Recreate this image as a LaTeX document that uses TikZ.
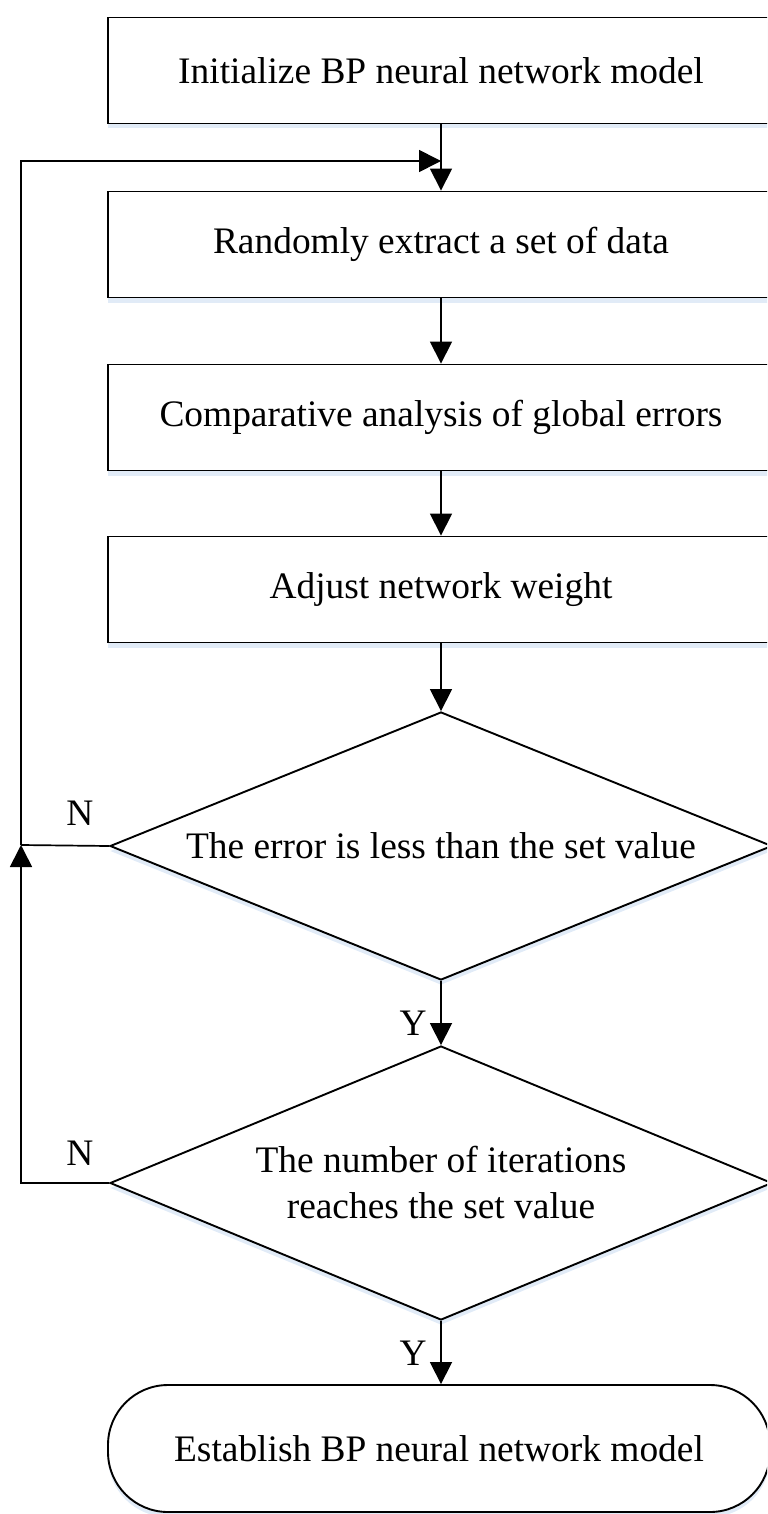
\documentclass[tikz,border=0pt]{standalone}
\usepackage{fontspec}
\setmainfont{Liberation Serif}
\usetikzlibrary{arrows.meta,shapes.geometric,shadows}
\definecolor{shadowblue}{RGB}{205,222,242}
\begin{document}
\begin{tikzpicture}[x=0.5pt,y=-0.5pt,
  font=\fontsize{18.7}{23}\selectfont,
  every node/.style={inner sep=0pt},
  outline/.style={line width=0.95pt,draw=black},
  softshadow/.style={drop shadow={shadow xshift=0pt,shadow yshift=-2.5pt,fill=shadowblue,opacity=0.6}},
  procbox/.style={rectangle,outline,fill=white,softshadow,minimum width=333pt,minimum height=53pt},
  decision/.style={diamond,aspect=2.5,outline,fill=white,softshadow,align=center,minimum width=331pt},
  terminal/.style={rectangle,rounded corners=30pt,outline,fill=white,softshadow,minimum width=331pt,minimum height=63.5pt},
  flow/.style={line width=0.85pt,-{Triangle[width=11pt,length=11pt]}},
  plain/.style={line width=0.85pt},
  mark label/.style={font=\fontsize{18.7}{23}\selectfont}
]
\useasboundingbox (0,0) rectangle (767,1514);
\clip (0,0) rectangle (767,1514);

% process steps
\node[procbox] (b1) at (441,70.5)  {Initialize BP neural network model};
\node[procbox] (b2) at (441,244.5) {Randomly extract a set of data};
\node[procbox] (b3) at (441,417.5) {Comparative analysis of global errors};
\node[procbox] (b4) at (441,589.5) {Adjust network weight};

% decisions
\node[decision,minimum height=134pt] (d1) at (441,846) {The error is less than the set value};
\node[decision,minimum height=137pt] (d2) at (441,1183) {The number of iterations\\reaches the set value};

% end
\node[terminal] (t) at (439,1448.5) {Establish BP neural network model};

% feedback route
\coordinate (jn) at (21,845);
\coordinate (merge) at (441,161);

% main flow
\draw[flow] (b1) -- (b2);
\draw[flow] (b2) -- (b3);
\draw[flow] (b3) -- (b4);
\draw[flow] (b4) -- (d1);
\draw[flow] (d1) -- (d2);
\draw[flow] (d2.south) -- (d2.south |- t.north);

% loop back to sampling
\draw[flow] (d2.west) -| (jn);
\draw[plain] (d1.west) -- (jn);
\draw[flow] (jn) |- (merge);

% branch labels
\node[mark label] (n1) at (80,813) {N};
\node[mark label] (n2) at (80,1153) {N};
\node[mark label] (y1) at (413,1023) {Y};
\node[mark label] (y2) at (413,1353) {Y};
\end{tikzpicture}
\end{document}
